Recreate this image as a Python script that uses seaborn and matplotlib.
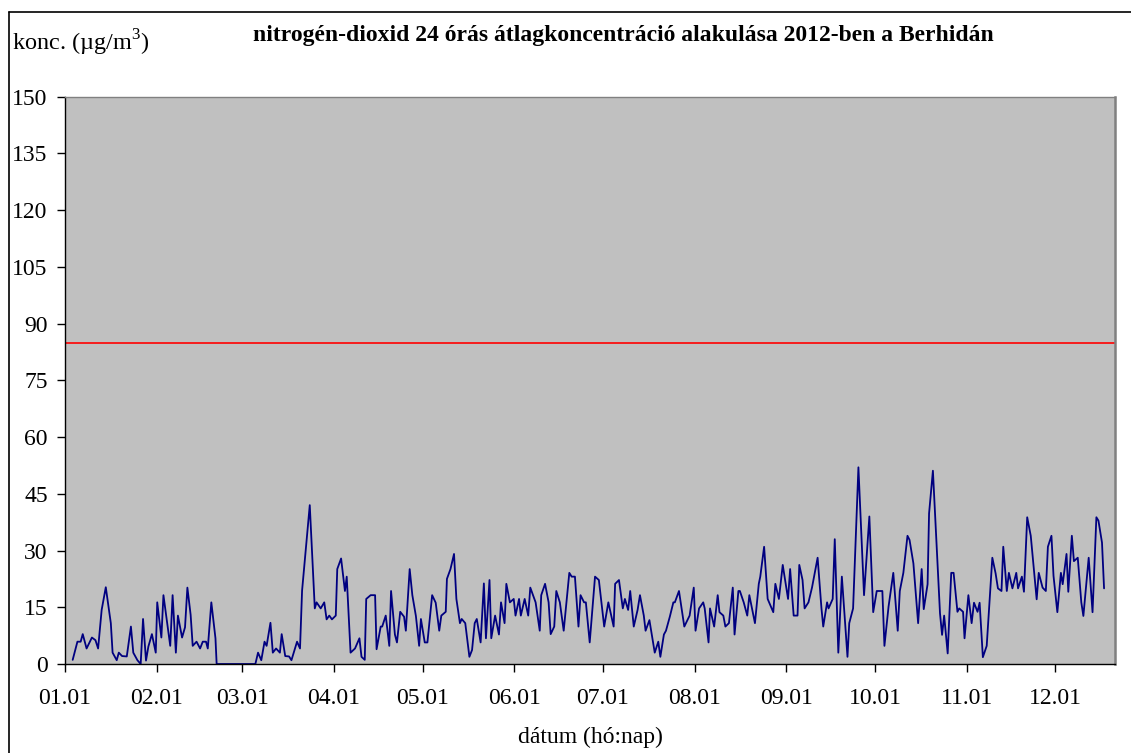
"""NO2 24 órás átlagkoncentráció, Berhida 2012 – Excel-ábra újrarajzolása."""
import matplotlib

matplotlib.use("Agg")
import matplotlib.dates as mdates
import matplotlib.pyplot as plt
import pandas as pd
import seaborn as sns
from matplotlib.lines import Line2D

TITLE = "nitrogén-dioxid 24 órás átlagkoncentráció alakulása 2012-ben a Berhidán"
YLABEL = "konc. (µg/m$^{3}$)"
XLABEL = "dátum (hó:nap)"
HATARERTEK = 85  # 24 órás határérték, µg/m3
YTICKS = list(range(0, 151, 15))
EV_KEZDET = "2012-01-01"
X_VEG_NAP = 355.2  # a tengely vége napokban (dec. 21. körül)

# napok 2012.01.01-től és a hozzájuk tartozó koncentrációk
nap = [
    2.6, 4.2, 5.3, 6.0, 7.3, 9.1, 10.3, 11.2, 12.4, 13.8, 15.5, 16.1, 17.5, 18.2, 19.3,
    20.9, 22.3, 23.1, 24.5, 25.6, 26.4, 27.4, 28.2, 29.4, 30.7, 31.2, 32.6, 33.3, 35.6,
    36.4, 37.5, 38.2, 39.6, 40.6, 41.4, 42.5, 43.2, 44.5, 45.7, 46.6, 47.7, 48.3, 49.5,
    50.9, 51.3, 64.4, 65.3, 66.4, 67.5, 68.2, 69.5, 70.3, 71.4, 72.7, 73.3, 74.5, 75.8,
    76.6, 78.5, 79.5, 80.2, 82.8, 84.5, 85.1, 86.5, 87.7, 88.5, 89.4, 90.3, 91.6, 92.1,
    93.4, 94.7, 95.3,
    96.6, 98.1, 99.6, 100.3, 101.4, 101.9, 103.4, 104.9, 105.4, 106.8, 107.3, 108.5,
    109.7, 110.3, 111.6, 112.3, 113.4, 114.7, 115.3, 116.6, 117.5, 118.7, 119.8, 120.4,
    121.7, 122.6, 124.2, 125.4, 126.6, 127.3, 128.8, 129.2, 130.4, 131.6, 132.4, 133.6,
    134.2, 135.4, 136.8, 137.7, 138.6, 139.3, 140.6, 141.7, 142.4, 143.6, 144.2, 145.5,
    146.8, 147.5, 148.7, 149.3, 150.5, 151.8, 152.4, 153.6, 154.2, 155.5, 156.7, 157.4,
    159.2, 160.6, 161.1, 162.4, 163.6, 164.3, 165.5, 166.2, 167.4, 168.7, 170.6, 171.4,
    172.5, 173.7, 174.4, 175.6, 176.2, 177.5, 179.3, 180.6, 182.4, 183.8, 185.6, 186.1,
    187.4, 188.7, 189.4, 190.5, 191.2, 192.4, 193.7, 194.5,
    195.8, 196.4, 197.7, 199.5, 200.7, 201.4, 202.6, 203.3, 204.6, 205.8, 206.3, 207.7,
    209.5, 211.3, 212.7, 213.3, 214.5, 215.9, 216.4, 217.7, 218.2, 219.6, 220.8, 221.4,
    222.7, 223.4, 224.6, 225.9, 226.5, 227.8, 228.3, 229.6, 230.8, 231.5, 233.4, 234.7,
    235.2, 236.5, 237.7, 239.6, 240.3, 241.5, 242.8, 244.6, 245.3, 246.5, 247.8, 248.4,
    249.5, 250.2, 251.5, 252.7, 253.4, 254.6, 255.9, 256.5, 257.8, 258.3, 259.7, 260.4,
    261.6, 262.8, 264.7, 265.3, 266.6, 268.4, 270.3, 272.1, 273.4, 274.6, 275.6,
    276.5, 277.2, 278.6, 280.2, 281.7, 282.4, 283.6, 285.0, 285.7, 287.0, 288.6, 289.8,
    290.5, 291.8, 292.3, 293.6, 296.0, 296.7, 297.4, 298.6, 299.8, 300.6, 301.9, 302.5,
    303.8, 304.3, 305.6, 306.7, 307.5, 308.7, 309.4, 310.5, 311.8, 313.7, 314.8, 315.6,
    316.8, 317.4, 318.6, 319.3, 320.5, 321.8, 322.4, 323.7, 324.4, 325.5, 326.7, 328.7,
    329.4, 330.7, 331.8, 332.5, 333.7, 334.4, 335.7, 336.9, 337.5, 338.8, 339.4, 340.6,
    341.3, 342.6, 343.8, 344.5, 346.3, 347.6, 348.9, 349.6, 350.8, 351.5,
]
no2 = [
    1.1, 5.9, 5.9, 7.9, 4.1, 7.0, 6.3, 4.1, 14.3, 20.3, 10.8, 3.0, 1.0, 3.0, 2.1,
    2.0, 9.9, 3.0, 1.0, 0.0, 11.9, 0.9, 4.6, 7.9, 3.0, 16.3, 7.0, 18.2, 4.8,
    18.2, 3.0, 12.8, 7.0, 9.7, 20.2, 13.0, 4.8, 5.9, 4.1, 5.9, 5.9, 4.1, 16.3,
    6.8, 0.0, 0.0, 3.0, 1.0, 5.9, 4.8, 10.9, 3.0, 4.1, 3.0, 7.9, 2.1, 2.0,
    1.0, 5.9, 4.1, 19.4, 42.0, 14.7, 16.3, 14.7, 16.3, 11.8, 12.8, 11.8, 12.8, 25.1,
    27.9, 19.3, 23.1,
    3.0, 4.1, 6.8, 1.9, 1.1, 17.2, 18.2, 18.2, 3.9, 9.9, 9.9, 12.8,
    4.8, 19.3, 7.8, 5.7, 13.8, 12.5, 8.8, 25.1, 18.2, 12.7, 4.8, 11.9,
    5.7, 5.7, 18.2, 16.2, 8.8, 12.8, 13.8, 22.5, 25.1, 29.1, 17.2, 10.8,
    11.9, 10.8, 1.9, 3.7, 10.8, 11.9, 5.7, 21.3, 6.8, 22.2, 6.8, 12.8,
    7.8, 16.3, 10.8, 21.2, 16.3, 17.2, 12.8, 17.2, 12.8, 17.2, 12.8, 20.2,
    16.3, 8.8, 18.2, 21.2, 16.3, 7.9, 9.9, 19.3, 16.3, 8.8, 24.1, 23.1,
    23.1, 9.9, 18.2, 16.3, 16.3, 5.7, 23.1, 22.2, 9.9, 16.3, 9.9, 21.2,
    22.2, 14.7, 17.2, 14.3, 19.3, 9.9, 14.3, 18.2,
    12.8, 8.8, 11.6, 3.0, 5.9, 1.9, 7.8, 8.8, 12.5, 16.3, 16.3, 19.3,
    9.9, 12.8, 20.2, 8.8, 14.7, 16.3, 14.7, 5.7, 14.7, 9.9, 18.2, 13.7,
    12.8, 9.9, 10.8, 20.2, 7.8, 19.3, 19.3, 16.3, 12.8, 18.2, 10.8, 21.2,
    23.1, 31.0, 17.2, 13.7, 21.2, 17.2, 26.2, 17.2, 25.1, 12.8, 12.8, 26.2,
    22.2, 14.7, 16.3, 20.2, 23.1, 28.1, 14.7, 9.9, 16.3, 14.7, 17.2, 33.0,
    3.0, 23.1, 1.9, 10.8, 14.7, 52.0, 18.2, 39.0, 13.7, 19.3, 19.3,
    19.3, 4.8, 15.2, 24.1, 8.8, 19.3, 24.1, 33.9, 32.8, 26.6, 10.8, 25.1,
    14.5, 21.1, 39.8, 51.1, 13.4, 7.7, 12.8, 2.8, 24.1, 24.1, 13.8, 14.7,
    13.8, 6.8, 18.2, 10.8, 16.2, 13.8, 16.2, 1.8, 4.8, 28.1, 24.0, 20.0,
    19.3, 31.0, 19.3, 24.1, 20.0, 24.1, 20.0, 23.1, 19.1, 38.8, 33.9, 17.1,
    24.1, 20.2, 19.3, 31.0, 33.9, 23.3, 13.7, 24.1, 21.1, 29.1, 19.1, 33.9,
    27.2, 28.1, 16.3, 12.7, 28.1, 13.7, 38.8, 37.9, 32.1, 20.0,
]

kezdet = pd.Timestamp(EV_KEZDET)
df = pd.DataFrame({"datum": kezdet + pd.to_timedelta(nap, unit="D"), "no2": no2})

sns.set_theme(style="white")
plt.rcParams["font.family"] = ["Liberation Serif", "DejaVu Serif"]
plt.rcParams["mathtext.fontset"] = "custom"
plt.rcParams["mathtext.rm"] = "Liberation Serif"
plt.rcParams["text.color"] = "black"
plt.rcParams["xtick.color"] = "black"
plt.rcParams["ytick.color"] = "black"

W, H = 1131, 753
fig = plt.figure(figsize=(W / 100, H / 100), dpi=100)
ax = fig.add_axes([65 / W, 1 - 664 / H, 1050 / W, 567.3 / H])
ax.set_facecolor("#c0c0c0")

sns.lineplot(data=df, x="datum", y="no2", color="#000080", linewidth=1.3, ax=ax)
ax.axhline(HATARERTEK, color="#ff0000", linewidth=1.2)

ax.set_ylim(0, 150)
ax.set_yticks(YTICKS)
ax.set_xlim(kezdet, kezdet + pd.Timedelta(days=X_VEG_NAP))
ax.xaxis.set_major_locator(mdates.MonthLocator())
ax.xaxis.set_major_formatter(mdates.DateFormatter("%m.%d"))
ax.set_xlabel("")
ax.set_ylabel("")

ax.tick_params(axis="both", direction="out", length=5.5, width=1, color="black",
               labelcolor="black", labelsize=17, left=True, bottom=True)
ax.tick_params(axis="x", pad=12)
ax.tick_params(axis="y", pad=7)
for side in ("left", "bottom"):
    ax.spines[side].set_color("black")
    ax.spines[side].set_linewidth(1)
ax.spines["top"].set_color("#808080")
ax.spines["top"].set_linewidth(1)
ax.spines["right"].set_color("#808080")
ax.spines["right"].set_linewidth(1.8)

fig.text(623 / W, 1 - 35 / H, TITLE, ha="center", va="center",
         fontsize=17, fontweight="bold", color="black")
fig.text(12 / W, 1 - 43 / H, YLABEL, ha="left", va="center", fontsize=17.5,
         color="black")
fig.text(590 / W, 1 - 737 / H, XLABEL, ha="center", va="center", fontsize=17,
         color="black")

# külső keret (jobb és alsó széle kilóg a képből)
fig.add_artist(Line2D([9 / W, 9 / W], [0, 1 - 12 / H], color="black", lw=1.2))
fig.add_artist(Line2D([9 / W, 1], [1 - 12 / H, 1 - 12 / H], color="black", lw=1.2))

fig.savefig("out.png", dpi=100)
